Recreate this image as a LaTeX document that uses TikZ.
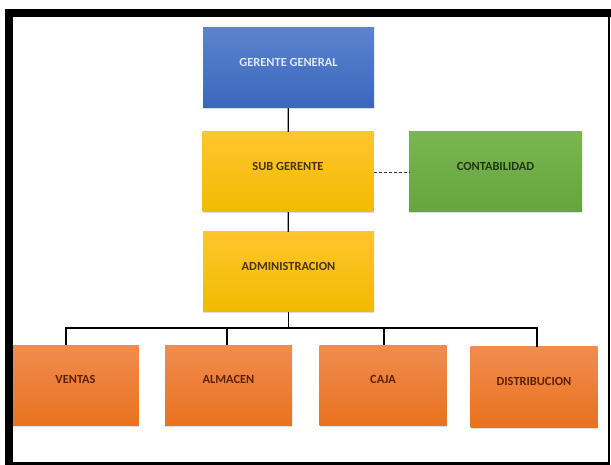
\documentclass[tikz,border=0pt]{standalone}
\usepackage{fontspec}
\setmainfont{Carlito}
\usetikzlibrary{shadows}
\definecolor{gentop}{RGB}{92,131,205}
\definecolor{genbot}{RGB}{58,102,190}
\definecolor{gentext}{RGB}{222,232,248}
\definecolor{subtop}{RGB}{255,197,46}
\definecolor{subbot}{RGB}{240,187,0}
\definecolor{subtext}{RGB}{72,52,4}
\definecolor{contop}{RGB}{122,181,81}
\definecolor{conbot}{RGB}{102,164,63}
\definecolor{context}{RGB}{30,56,18}
\definecolor{deptop}{RGB}{240,140,80}
\definecolor{depbot}{RGB}{233,114,30}
\definecolor{deptext}{RGB}{92,34,6}

\tikzset{
  unit/.style={minimum width=171pt,minimum height=80pt,inner sep=0pt,
    text height=8pt,text depth=11pt,font=\fontsize{12.4}{14}\selectfont\bfseries,
    drop shadow={shadow xshift=0pt,shadow yshift=-1.5pt,opacity=0.25}},
  chief/.style={unit,top color=gentop,bottom color=genbot,text=gentext},
  second/.style={unit,top color=subtop,bottom color=subbot,text=subtext},
  advice/.style={unit,minimum width=173pt,top color=contop,bottom color=conbot,text=context},
  dept/.style={unit,minimum width=127pt,top color=deptop,bottom color=depbot,text=deptext},
  link/.style={line width=1.3pt}
}

\begin{document}
\begin{tikzpicture}[x=1pt,y=-1pt]
\useasboundingbox[fill=white] (0,0) rectangle (611,465);
\node[chief]  (gerente) at (288.5,68)  {GERENTE GENERAL};
\node[second] (sub)     at (288,172)   {SUB GERENTE};
\node[advice] (conta)   at (495.5,172) {CONTABILIDAD};
\node[second] (admin)   at (288.5,272) {ADMINISTRACION};
\node[dept,minimum width=126pt] (ventas) at (75.5,385.5) {VENTAS};
\node[dept]   (almacen) at (228.5,385.5) {ALMACEN};
\node[dept]   (caja)    at (383,385.5)   {CAJA};
\node[dept]   (distri)  at (534,387)     {DISTRIBUCION};
\coordinate (bus) at (288.5,328);
\draw[link] (gerente) -- (sub);
\draw[link] (sub) -- (admin);
\draw[gray!40!black,line width=0.9pt,dash pattern=on 3pt off 2pt] (sub) -- (conta);
\draw[link] (admin) -- (bus);
\draw[link] (bus) -| ([xshift=-9.5pt]ventas.north);
\draw[link] (bus) -| ([xshift=-1.5pt]almacen.north);
\draw[link] (bus) -| ([xshift=1pt]caja.north);
\draw[link] (bus) -| ([xshift=3pt]distri.north);
% frame
\fill[black] (5,9) rectangle (13,465);
\fill[black] (5,9) rectangle (611,17);
\fill[black] (608,9) rectangle (610,465);
\fill[black] (5,462) rectangle (610,465);
\end{tikzpicture}
\end{document}
